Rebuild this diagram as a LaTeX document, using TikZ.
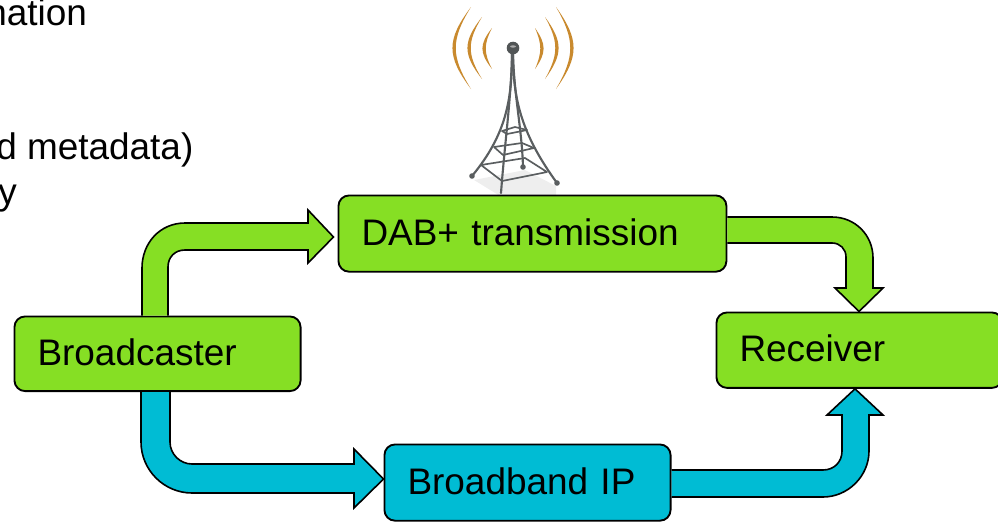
\documentclass[tikz,border=0pt]{standalone}
\usepackage{fontspec}
\setmainfont{Liberation Sans}
\definecolor{grn}{HTML}{86DF24}
\definecolor{blu}{HTML}{00BCD4}
\definecolor{orng}{HTML}{C98A2E}
\definecolor{twr}{HTML}{5A5E60}
\tikzset{
  box/.style={draw=black,line width=1.4pt,rounded corners=8pt,inner xsep=17.3pt,inner ysep=0pt,anchor=north west,
    align=left,font=\fontsize{27.7}{30}\selectfont,text=black,text height=17.5pt,text depth=0pt},
  lbl/.style={font=\fontsize{27.7}{30}\selectfont,text=black,inner sep=0pt,anchor=base west},
  flow/.style={draw=black,line width=1.2pt,line join=miter},
  wave/.style={fill=orng,draw=none},
  leg/.style={draw=twr,line width=1.6pt,line cap=round},
  rung/.style={draw=twr,line width=1.25pt,line join=round},
  foot/.style={fill=twr,draw=none},
}
\begin{document}
\begin{tikzpicture}[x=0.75pt,y=-0.75pt]
\useasboundingbox (0,0) rectangle (998,521);
% text fragments at top left
\node[lbl] (t1) at (-14,25) {nation};
\node[lbl] (t2) at (-4,159) {d metadata)};
\node[lbl] (t3) at (-2,204) {y};
% waves
\foreach \s/\xa/\xb/\ya/\yb in {-1/471/453/7/89,-1/482/468/17/79,-1/492/483/28/69,1/556/573/7/89,1/545/558/17/79,1/535/543/28/69}{
  \fill[wave] (\xa,\ya) .. controls ({\xb+(\xb-\xa)*0.33+\s*0.8},{\ya*0.6+\yb*0.4}) and ({\xb+(\xb-\xa)*0.33+\s*0.8},{\ya*0.4+\yb*0.6}) .. (\xa,\yb)
   .. controls ({\xb+(\xb-\xa)*0.33-\s*3.6},{\ya*0.4+\yb*0.6}) and ({\xb+(\xb-\xa)*0.33-\s*3.6},{\ya*0.6+\yb*0.4}) .. (\xa,\ya) -- cycle;
}
% reflection
\fill[gray!13] (474,180) -- (500,196) -- (556,196) -- (556,186) -- (525,170) -- cycle;
% tower legs
\draw[leg] (512,54) .. controls (512,100) and (506,135) .. (472,176);
\draw[leg] (512,54) .. controls (511,100) and (505,140) .. (501,193);
\draw[leg] (513,54) .. controls (513,100) and (522,135) .. (557,183);
\draw[leg] (513,54) .. controls (514,95) and (522,130) .. (523,167);
% rings
\draw[rung] (502,131) -- (507,134) -- (527,130) -- (515,127) -- cycle;
\draw[rung] (494,147) -- (503,155) -- (534,148) -- (522,143) -- cycle;
\draw[rung] (481,165) -- (502,181) -- (547,172) -- (525,158) -- cycle;
% feet
\fill[foot] (472,176) circle (2.8);
\fill[foot] (557,183) circle (2.8);
\fill[foot] (523,167) circle (2.8);
% ball
\fill[twr!90!black] (513,48) circle (6.3);
\fill[gray!65] (513,46.5) ellipse (3 and 1.2);
% boxes
\node[box,fill=grn,text width=180pt,minimum height=56pt] (bc) at (13.5,315.5) {Broadcaster};
\node[box,fill=grn,text width=256.4pt,minimum height=57.2pt] (dab) at (337.5,194.5) {DAB+ transmission};
\node[box,fill=grn,text width=180pt,minimum height=56.6pt] (rx) at (715.5,311.5) {Receiver};
\node[box,fill=blu,text width=180pt,minimum height=57.2pt] (ip) at (383.5,443.5) {Broadband IP};
\coordinate (dabtip) at ([xshift=-3pt]dab.west |- 0,237);
% block arrows
\draw[flow,fill=grn] (142,0 |- bc.north) -- (142,268) .. controls (142,243) and (160,223) .. (185,223)
  -- (308,223) -- (308,210) -- (dabtip) -- (308,263) -- (308,250) -- (185,250)
  .. controls (175,250) and (168,257) .. (168,267) -- (168,0 |- bc.north);
\draw[flow,fill=blu] (141,0 |- bc.south) -- (141,442) .. controls (141,470) and (164,493) .. (192,493)
  -- (354,493) -- (354,508) -- (ip.west |- 0,479) -- (354,449) -- (354,464) -- (192,464)
  .. controls (180,464) and (170,454) .. (170,442) -- (170,0 |- bc.south);
\draw[flow,fill=grn] (dab.east |- 0,217) -- (832,217) .. controls (855,217) and (873,235) .. (873,258)
  -- (873,288) -- (883,288) -- (859,0 |- rx.north) -- (835,288) -- (846,288) -- (846,257)
  .. controls (846,249) and (840,243) .. (832,243) -- (dab.east |- 0,243);
\draw[flow,fill=blu] (ip.east |- 0,470) -- (823,470) .. controls (834,470) and (842,462) .. (842,451)
  -- (842,415) -- (827,415) -- (855,0 |- rx.south) -- (883,415) -- (869,415) -- (869,451)
  .. controls (869,476) and (848,497) .. (823,497) -- (ip.east |- 0,497);
\end{tikzpicture}
\end{document}
